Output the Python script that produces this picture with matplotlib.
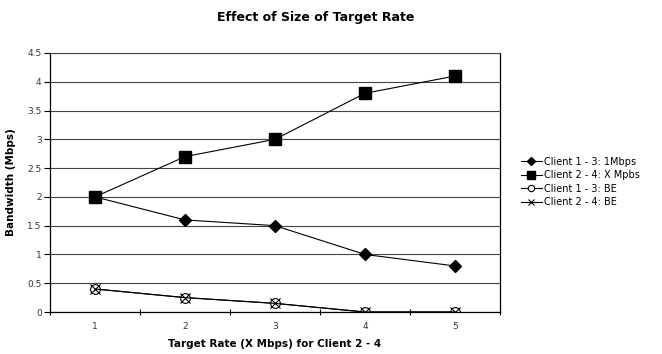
import matplotlib.pyplot as plt

# Datos del grafico
target_rate = [1, 2, 3, 4, 5]
cliente_13_1mbps = [2.0, 1.6, 1.5, 1.0, 0.8]
cliente_24_x = [2.0, 2.7, 3.0, 3.8, 4.1]
cliente_13_be = [0.4, 0.25, 0.15, 0.0, 0.0]
cliente_24_be = [0.4, 0.25, 0.15, 0.0, 0.0]
y_ticks = [0, 0.5, 1, 1.5, 2, 2.5, 3, 3.5, 4, 4.5]

fig = plt.figure(figsize=(6.62, 3.54), dpi=100)
ax = fig.add_axes([50/662, 1 - 312/354, 450/662, (312 - 53)/354])

ax.plot(target_rate, cliente_13_1mbps, color='black', lw=0.8, marker='D',
        markersize=6, markerfacecolor='black', label='Client 1 - 3: 1Mbps')
ax.plot(target_rate, cliente_24_x, color='black', lw=0.8, marker='s',
        markersize=9, markerfacecolor='black', label='Client 2 - 4: X Mpbs')
ax.plot(target_rate, cliente_13_be, color='black', lw=0.8, marker='o',
        markersize=7, markerfacecolor='white', markeredgewidth=0.8,
        label='Client 1 - 3: BE')
ax.plot(target_rate, cliente_24_be, color='black', lw=0.8, marker='x',
        markersize=7, markeredgewidth=0.8, label='Client 2 - 4: BE')

ax.set_xlim(0.5, 5.5)
ax.set_ylim(0, 4.5)
ax.set_yticks(y_ticks)
ax.set_yticklabels([f'{v:g}' for v in y_ticks], fontsize=6.5, color='#333333')
# marcas entre categorias, etiquetas centradas en cada categoria
ax.set_xticks([0.5, 1.5, 2.5, 3.5, 4.5, 5.5], minor=False)
ax.set_xticklabels([])
ax.set_xticks(target_rate, minor=True)
ax.set_xticklabels([str(v) for v in target_rate], minor=True, fontsize=6.5, color='#333333')
ax.tick_params(axis='x', which='minor', length=0, pad=7)
ax.tick_params(axis='x', which='major', length=4, direction='inout', width=0.8)
ax.tick_params(axis='y', length=4, direction='out', width=0.8, pad=2)

ax.grid(axis='y', color='#444444', lw=0.8)
for s in ['left', 'bottom', 'right']:
    ax.spines[s].set_color('black')
    ax.spines[s].set_linewidth(0.9)
ax.spines['top'].set_color('#444444')
ax.spines['top'].set_linewidth(0.8)

ax.set_xlabel('Target Rate (X Mbps) for Client 2 - 4', fontsize=7.5,
              fontweight='bold', labelpad=6)
ax.set_ylabel('Bandwidth (Mbps)', fontsize=7.5, fontweight='bold', labelpad=8)

fig.text(316/662, 1 - 17/354, 'Effect of Size of Target Rate', ha='center',
         va='center', fontsize=9, fontweight='bold')

ax.legend(loc='center left', bbox_to_anchor=(512/662, 1 - 182/354),
          bbox_transform=fig.transFigure, frameon=False, fontsize=7,
          handlelength=2.2, handletextpad=0.2, labelspacing=0.35,
          markerscale=0.65)

plt.savefig('out.png', dpi=100)
